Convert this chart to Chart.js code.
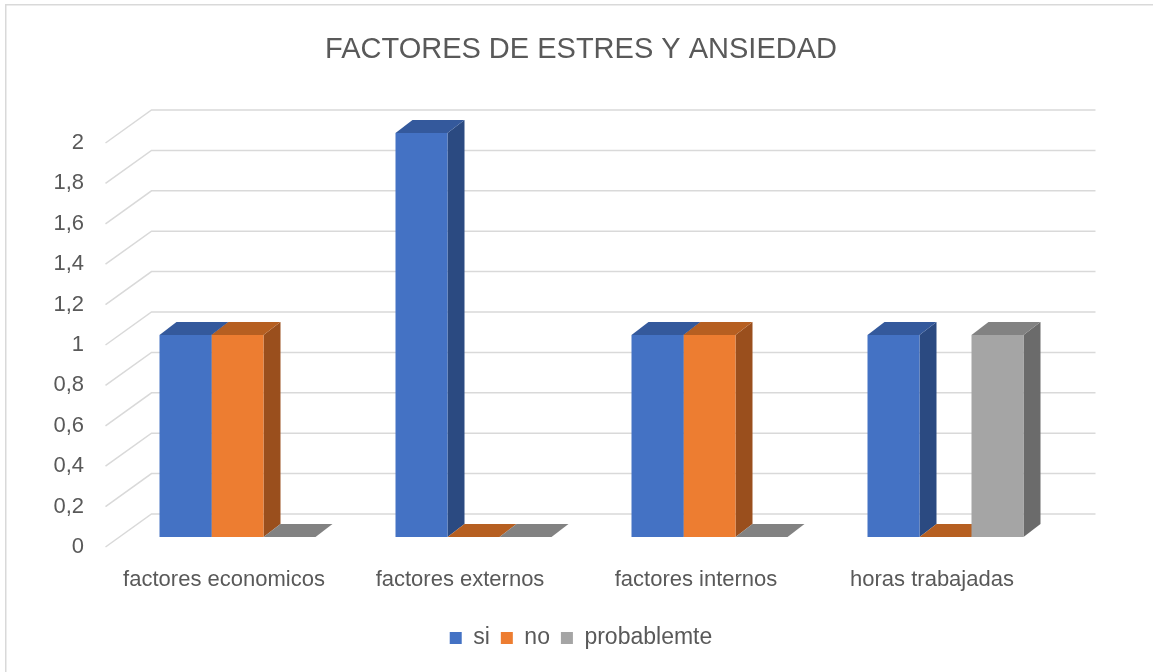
<!DOCTYPE html>
<html>
<head>
<meta charset="utf-8">
<title>Factores de estres y ansiedad</title>
<script src="https://cdn.jsdelivr.net/npm/chart.js@4.4.1/dist/chart.umd.min.js"></script>
<style>
  html, body { margin: 0; padding: 0; background: #fff; }
  #wrap { width: 1153px; height: 672px; position: relative; }
</style>
</head>
<body>
<div id="wrap"><canvas id="chart"></canvas></div>
<script>
// data
const categories = ["factores economicos", "factores externos", "factores internos", "horas trabajadas"];
const seriesNames = ["si", "no", "probablemte"];
const siValues = [1, 2, 1, 1];
const noValues = [1, 0, 1, 0];
const probValues = [0, 0, 0, 1];
const yMin = 0, yMax = 2, yStep = 0.2;

const frontColors = ["#4472c4", "#ed7d31", "#a5a5a5"];
const topColors = ["#34599c", "#b65f21", "#828282"];
const sideColors = ["#2b4a81", "#9a4f1d", "#6b6b6b"];

const FONT = "'Liberation Sans', Arial, sans-serif";
const TEXT = "#595959";

// 3d offsets, relative to the plane of the bar fronts
const depthX = 17, depthY = -13;   // bar depth
const wallX = 32, wallY = -23;     // back wall
const frontX = -14, frontY = 10;   // axis plane

function poly(ctx, pts, color) {
  ctx.beginPath();
  ctx.moveTo(pts[0][0], pts[0][1]);
  for (let i = 1; i < pts.length; i++) ctx.lineTo(pts[i][0], pts[i][1]);
  ctx.closePath();
  ctx.fillStyle = color;
  ctx.fill();
}

const faces3d = {
  id: "faces3d",
  beforeDraw(chart) {
    const ctx = chart.ctx;
    ctx.save();
    ctx.fillStyle = "#fff";
    ctx.fillRect(0, 0, chart.width, chart.height);
    ctx.strokeStyle = "#d9d9d9";
    ctx.lineWidth = 1.5;
    ctx.strokeRect(5.75, 4.75, chart.width + 20, chart.height + 20);
    ctx.restore();
  },
  beforeDatasetsDraw(chart) {
    const { ctx, chartArea: a, scales: { y } } = chart;
    ctx.save();
    // back wall grid + diagonals to the axis
    ctx.strokeStyle = "#d9d9d9";
    ctx.lineWidth = 1.5;
    y.ticks.forEach(t => {
      const p = y.getPixelForValue(t.value);
      ctx.beginPath();
      ctx.moveTo(a.left + frontX, p + frontY);
      ctx.lineTo(a.left + wallX, p + wallY);
      ctx.lineTo(a.right + wallX, p + wallY);
      ctx.stroke();
    });

    // sides and tops, left to right so later fronts cover earlier sides
    const items = [];
    chart.data.datasets.forEach((ds, i) => {
      chart.getDatasetMeta(i).data.forEach(bar => items.push({ bar, i }));
    });
    items.sort((m, n) => m.bar.x - n.bar.x);
    items.forEach(({ bar, i }) => {
      const { x, y: top, base, width } = bar.getProps(["x", "y", "base", "width"], true);
      const l = x - width / 2, r = x + width / 2;
      poly(ctx, [[r, base], [r + depthX, base + depthY], [r + depthX, top + depthY], [r, top]], sideColors[i]);
      poly(ctx, [[l, top], [r, top], [r + depthX, top + depthY], [l + depthX, top + depthY]], topColors[i]);
    });
    ctx.restore();
  }
};

new Chart(document.getElementById("chart"), {
  type: "bar",
  data: {
    labels: categories,
    datasets: [siValues, noValues, probValues].map((vals, i) => ({
      label: seriesNames[i],
      data: vals,
      backgroundColor: frontColors[i],
      borderWidth: 0,
      categoryPercentage: 0.661,
      barPercentage: 1.0
    }))
  },
  options: {
    responsive: true,
    maintainAspectRatio: false,
    animation: false,
    layout: { padding: { left: 9, right: 0, top: 0, bottom: 12.5 } },
    plugins: {
      title: {
        display: true,
        text: "FACTORES DE ESTRES Y ANSIEDAD",
        color: TEXT,
        font: { family: FONT, size: 29, weight: "normal" },
        padding: { top: 32.6, bottom: 65.6 }
      },
      legend: {
        position: "bottom",
        labels: {
          color: TEXT,
          boxWidth: 12,
          boxHeight: 12,
          padding: 11,
          font: { family: FONT, size: 23 }
        }
      },
      tooltip: { enabled: false }
    },
    scales: {
      x: {
        grid: { display: false, drawTicks: false },
        border: { display: false },
        ticks: {
          color: TEXT,
          font: { family: FONT, size: 22 },
          padding: 30,
          labelOffset: -13.5,
          maxRotation: 0
        },
        afterFit(scale) { scale.height = 78.5; }
      },
      y: {
        min: yMin,
        max: yMax,
        grid: { display: false, drawTicks: false },
        border: { display: false },
        ticks: {
          stepSize: yStep,
          color: TEXT,
          font: { family: FONT, size: 22 },
          padding: 35.5,
          labelOffset: 10,
          callback: v => String(+v.toFixed(1)).replace(".", ",")
        },
        afterFit(scale) { scale.width = 110.5; }
      },
      // empty right-hand box: leaves room for the 3d back wall
      yRight: {
        position: "right",
        min: yMin,
        max: yMax,
        grid: { display: false, drawTicks: false },
        border: { display: false },
        ticks: { display: false },
        afterFit(scale) { scale.width = 89.5; }
      }
    }
  },
  plugins: [faces3d]
});
</script>
</body>
</html>
